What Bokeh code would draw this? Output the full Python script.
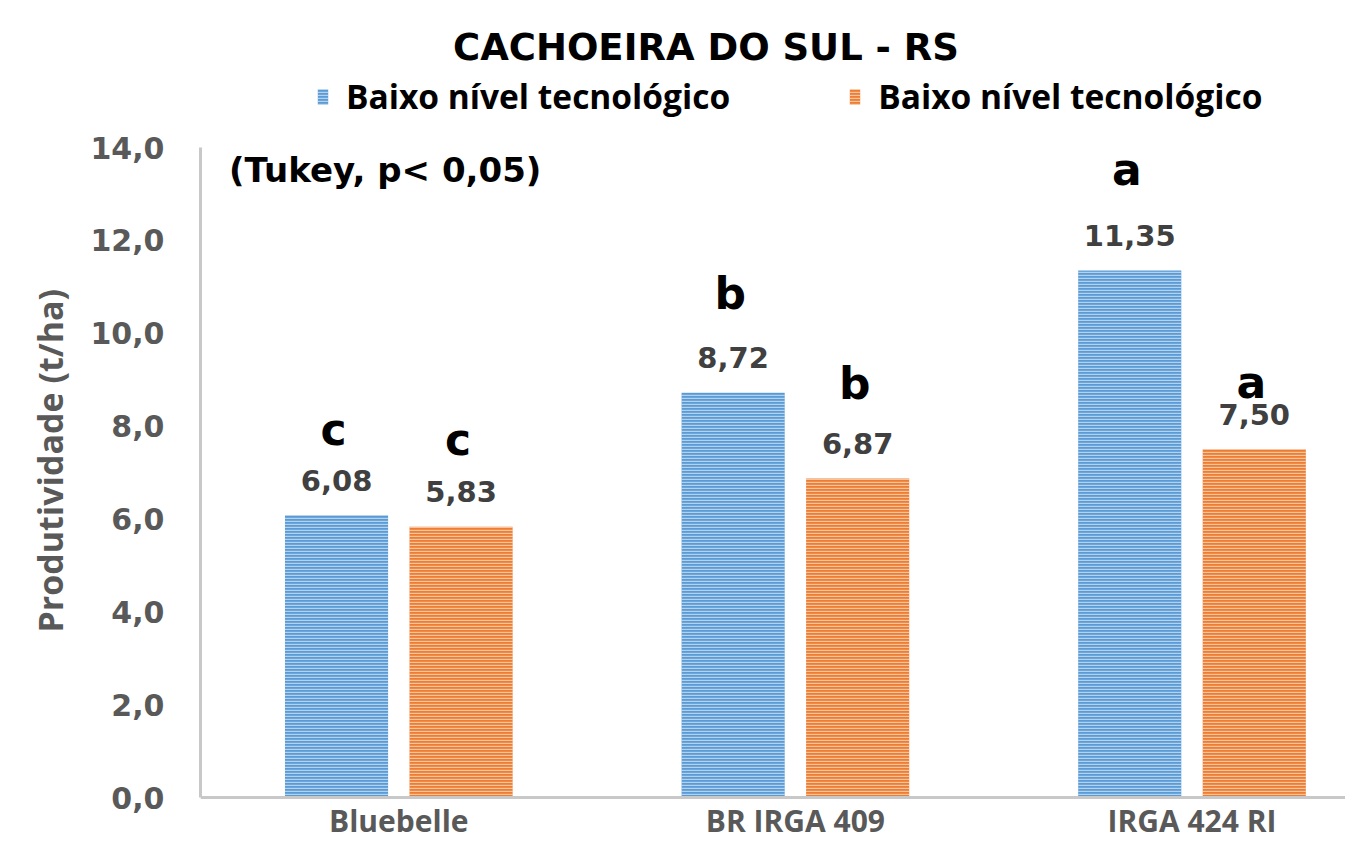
from bokeh.plotting import figure
from bokeh.models import Range1d, FixedTicker, Label, Legend, LegendItem
from bokeh.core.properties import value
from bokeh.embed import file_html
from bokeh.resources import INLINE
import numpy as np

# ---------------- data ----------------
categories = ["Bluebelle", "BR IRGA 409", "IRGA 424 RI"]
series_names = ["Baixo nível tecnológico", "Baixo nível tecnológico"]
blue_values = [6.08, 8.72, 11.35]
orange_values = [5.83, 6.87, 7.50]
blue_letters = ["c", "b", "a"]
orange_letters = ["c", "b", "a"]
y_ticks = [0, 2, 4, 6, 8, 10, 12, 14]
y_tick_labels = ["0,0", "2,0", "4,0", "6,0", "8,0", "10,0", "12,0", "14,0"]
title_text = "CACHOEIRA DO SUL - RS"
note_text = "(Tukey, p< 0,05)"
y_label = "Produtividade (t/ha)"

# ---------------- style ----------------
BLUE = "#5B9BD5"
ORANGE = "#ED7D31"
GRAY = "#595959"
AXIS = "#c8c8c8"
W, H = 1345, 841
LEFT = 200          # frame left (px)
ZERO_PX = 797       # pixel row of y = 0
TOP_PX = 147        # pixel row of y = 14
ppu = (ZERO_PX - TOP_PX) / 14.0
cat_px = 396.6
bar_w = 0.26
dodge = 0.157
blue_letter_off = [-86, -99, -101]
orange_letter_off = [-87, -95, -67]

def fmt(v):
    return f"{v:.2f}".replace(".", ",")

cx = np.arange(len(categories)) + 0.5
xb = cx - dodge
xo = cx + dodge

p = figure(width=W, height=H, output_backend="svg", toolbar_location=None,
           x_range=Range1d(0, (W - LEFT) / cat_px),
           y_range=Range1d(-(H - ZERO_PX) / ppu, 14 + TOP_PX / ppu),
           min_border_left=LEFT, min_border_right=0, min_border_top=0,
           min_border_bottom=0, title=None)
p.outline_line_color = None
p.xgrid.visible = False
p.ygrid.visible = False
p.background_fill_color = "white"

hatch = dict(hatch_pattern="horizontal_line", hatch_color="white",
             hatch_alpha=0.55, hatch_scale=3, hatch_weight=1.4)
rb = p.vbar(x=xb, top=blue_values, width=bar_w, fill_color=BLUE,
            line_color=None, **hatch)
ro = p.vbar(x=xo, top=orange_values, width=bar_w, fill_color=ORANGE,
            line_color=None, **hatch)

lab_style = dict(text_align="center", text_baseline="alphabetic",
                 text_font=value("DejaVu Sans"), text_font_style="bold",
                 text_font_size="29px", text_color="#404040", y_offset=-35)
p.text(x=xb, y=blue_values, text=[fmt(v) for v in blue_values], **lab_style)
p.text(x=xo, y=orange_values, text=[fmt(v) for v in orange_values], **lab_style)

let_style = dict(text_align="center", text_baseline="alphabetic",
                 text_font=value("DejaVu Sans"), text_font_style="bold",
                 text_font_size="44px", text_color="black", x_offset=-3)
p.text(x=xb, y=blue_values, text=blue_letters, y_offset=blue_letter_off, **let_style)
p.text(x=xo, y=orange_values, text=orange_letters, y_offset=orange_letter_off, **let_style)

# axes
p.yaxis.ticker = FixedTicker(ticks=y_ticks)
p.yaxis.major_label_overrides = {t: l for t, l in zip(y_ticks, y_tick_labels)}
p.yaxis.bounds = (0, 14)
p.xaxis.ticker = FixedTicker(ticks=list(cx))
p.xaxis.major_label_overrides = {float(c): n for c, n in zip(cx, categories)}
p.xaxis.fixed_location = 0
for ax in (p.xaxis[0], p.yaxis[0]):
    ax.axis_line_color = AXIS
    ax.axis_line_width = 3
    ax.major_tick_line_color = None
    ax.minor_tick_line_color = None
    ax.major_tick_out = 0
    ax.major_tick_in = 0
    ax.major_label_text_color = GRAY
    ax.major_label_text_font_style = "bold"
p.yaxis.major_label_text_font = "DejaVu Sans"
p.yaxis.major_label_text_font_size = "30px"
p.yaxis.major_label_standoff = 36
# trailing no-break spaces shift the centred label down to the reference position
p.yaxis.axis_label = y_label + "\u00a0" * 9
p.yaxis.axis_label_text_font = "Open Sans"
p.yaxis.axis_label_text_font_style = "bold"
p.yaxis.axis_label_text_font_size = "34px"
p.yaxis.axis_label_text_color = GRAY
p.yaxis.axis_label_standoff = 14
p.xaxis.major_label_text_font = "Open Sans"
p.xaxis.major_label_text_font_size = "30px"
p.xaxis.major_label_standoff = 2

# title and note (screen units relative to frame bottom-left)
p.add_layout(Label(x=505.5, y=H - 47, x_units="screen", y_units="screen",
                   text=title_text, text_align="center", text_baseline="alphabetic",
                   text_font="DejaVu Sans", text_font_style="bold",
                   text_font_size="37px", text_color="black"))
p.add_layout(Label(x=28.5, y=H - 169, x_units="screen", y_units="screen",
                   text=note_text, text_align="left", text_baseline="alphabetic",
                   text_font="DejaVu Sans", text_font_style="bold",
                   text_font_size="34px", text_color="black"))

legend = Legend(items=[LegendItem(label=series_names[0], renderers=[rb]),
                       LegendItem(label=series_names[1], renderers=[ro])],
                orientation="horizontal", location=(116, H - 119),
                glyph_width=13, glyph_height=19, label_standoff=17, spacing=118,
                padding=0, margin=0, border_line_color=None,
                background_fill_alpha=0,
                label_text_font="Open Sans", label_text_font_style="bold",
                label_text_font_size="33.5px", label_text_color="black")
p.add_layout(legend)

open("out.html", "w").write(file_html(p, INLINE))
